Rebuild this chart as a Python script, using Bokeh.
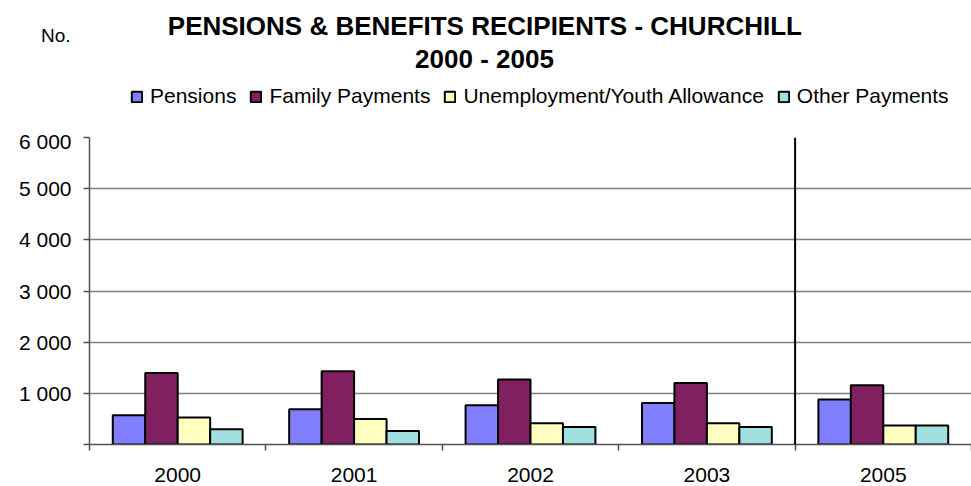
from bokeh.plotting import figure
from bokeh.layouts import column
from bokeh.models import ColumnDataSource, Range1d, FixedTicker, Label, Legend, LegendItem, Span
from bokeh.transform import dodge
from bokeh.embed import file_html
from bokeh.resources import INLINE

years = ["2000", "2001", "2002", "2003", "2005"]
pensions = [570, 690, 765, 810, 880]
family_payments = [1395, 1430, 1270, 1200, 1160]
unemployment = [530, 500, 415, 415, 370]
other_payments = [300, 265, 340, 340, 370]

series_keys = ["pensions", "family", "unemployment", "other"]
series_names = ["Pensions", "Family Payments", "Unemployment/Youth Allowance", "Other Payments"]
series_colors = ["#8080FF", "#802060", "#FFFFC0", "#A0E0E0"]

y_ticks = [0, 1000, 2000, 3000, 4000, 5000, 6000]
y_tick_labels = ["", "1 000", "2 000", "3 000", "4 000", "5 000", "6 000"]

title_line1 = "PENSIONS & BENEFITS RECIPIENTS -  CHURCHILL"
title_line2 = "2000 - 2005"
y_title = "No."

FONT = "Liberation Sans"
W = 971
LEFT = 89
TOP_H = 129
MAIN_H = 486 - TOP_H

centers = [i + 0.5 for i in range(len(years))]
boundaries = [float(i) for i in range(len(years) + 1)]
src = ColumnDataSource(dict(
    x=centers,
    pensions=pensions,
    family=family_payments,
    unemployment=unemployment,
    other=other_payments,
))
bar_w = 0.184
offsets = [-1.5 * bar_w, -0.5 * bar_w, 0.5 * bar_w, 1.5 * bar_w]

# ---------------- header (titles, unit label, legend) ----------------
top = figure(width=W, height=TOP_H, x_range=Range1d(LEFT, W), y_range=Range1d(TOP_H, 0),
             output_backend="svg", toolbar_location=None, x_axis_location=None,
             min_border_left=LEFT, min_border_right=0, min_border_top=0, min_border_bottom=0)
top.outline_line_color = None
top.xgrid.visible = False
top.ygrid.visible = False

unit_pos = 35
tax = top.yaxis[0]
tax.ticker = FixedTicker(ticks=[unit_pos])
tax.major_label_overrides = {unit_pos: y_title}
tax.axis_line_color = None
tax.major_tick_line_color = None
tax.minor_tick_line_color = None
tax.major_tick_out = 0
tax.major_tick_in = 0
tax.major_label_standoff = 19
tax.major_label_text_font = FONT
tax.major_label_text_font_size = "19px"
tax.major_label_text_color = "black"

top.add_layout(Label(x=488, y=25, text=title_line1, text_align="center",
                     text_baseline="middle", text_font=FONT, text_font_style="bold",
                     text_font_size="26px", text_color="black"))
top.add_layout(Label(x=484, y=58, text=title_line2, text_align="center",
                     text_baseline="middle", text_font=FONT, text_font_style="bold",
                     text_font_size="26px", text_color="black"))

key_renderers = []
for key, col, off in zip(series_keys, series_colors, offsets):
    key_renderers.append(top.vbar(x=dodge("x", off, range=top.x_range), top=key, width=bar_w,
                                  source=src, fill_color=col, line_color="black",
                                  line_width=2, visible=False))
legend = Legend(
    items=[LegendItem(label=n, renderers=[r]) for n, r in zip(series_names, key_renderers)],
    orientation="horizontal", location=(41, 21),
    glyph_width=13, glyph_height=13, label_standoff=7, spacing=13,
    padding=0, margin=0, border_line_color=None, background_fill_alpha=0,
    inactive_fill_alpha=0,
    label_text_font=FONT, label_text_font_size="21px", label_text_color="black",
)
top.add_layout(legend)

# ---------------- main chart ----------------
p = figure(
    width=W, height=MAIN_H,
    x_range=Range1d(0, len(years)), y_range=Range1d(0, 6000),
    output_backend="svg", toolbar_location=None,
    min_border_left=LEFT, min_border_right=0, min_border_top=8, min_border_bottom=42,
)
p.outline_line_color = None

for key, col, off in zip(series_keys, series_colors, offsets):
    p.vbar(x=dodge("x", off, range=p.x_range), top=key, width=bar_w, source=src,
           fill_color=col, line_color="black", line_width=2)

yax = p.yaxis[0]
yax.ticker = FixedTicker(ticks=y_ticks)
yax.major_label_overrides = {t: l for t, l in zip(y_ticks, y_tick_labels)}
yax.major_tick_out = 6
yax.major_tick_in = 0
yax.minor_tick_line_color = None
yax.axis_line_color = "#505050"
yax.axis_line_width = 1.5
yax.major_tick_line_color = "#505050"
yax.major_tick_line_width = 1.5
yax.major_label_standoff = 12
yax.major_label_text_font = FONT
yax.major_label_text_font_size = "21px"
yax.major_label_text_color = "black"

xax = p.xaxis[0]
xax.ticker = FixedTicker(ticks=centers, minor_ticks=boundaries)
xax.major_label_overrides = {c: y for c, y in zip(centers, years)}
xax.major_tick_line_color = None
xax.major_tick_out = 0
xax.major_tick_in = 0
xax.minor_tick_out = 6
xax.minor_tick_in = 0
xax.minor_tick_line_color = "#505050"
xax.minor_tick_line_width = 1.5
xax.axis_line_color = "#505050"
xax.axis_line_width = 1.5
xax.major_label_standoff = 17
xax.major_label_text_font = FONT
xax.major_label_text_font_size = "21px"
xax.major_label_text_color = "black"

p.xgrid.visible = False
p.ygrid.grid_line_color = "#808080"
p.ygrid.grid_line_width = 1.5

p.add_layout(Span(location=boundaries[4], dimension="height", line_color="black", line_width=2))

layout = column(top, p, spacing=0)
open("out.html", "w").write(file_html(layout, INLINE))
